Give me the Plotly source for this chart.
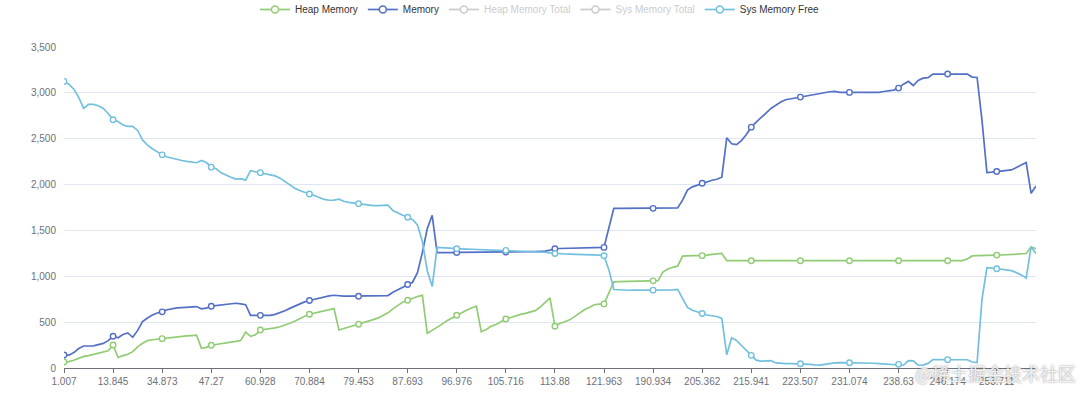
import plotly.graph_objects as go

# ---------------- data ----------------
x_tick_labels = ["1.007", "13.845", "34.873", "47.27", "60.928", "70.884", "79.453",
                 "87.693", "96.976", "105.716", "113.88", "121.963", "190.934",
                 "205.362", "215.941", "223.507", "231.074", "238.63", "246.174", "253.711"]

heap_memory = [
    66, 70, 85, 108, 127, 135, 148, 157, 171, 188,
    250, 115, 135, 150, 178, 230, 270, 298, 308, 315,
    320, 325, 331, 338, 345, 350, 353, 357, 215, 225,
    248, 255, 266, 275, 284, 290, 300, 392, 345, 362,
    414, 420, 428, 438, 450, 466, 488, 510, 539, 564,
    586, 597, 607, 619, 635, 648, 415, 430, 450, 466,
    477, 492, 510, 528, 546, 572, 601, 645, 685, 718,
    739, 760, 780, 792, 378, 410, 440, 478, 515, 545,
    575, 605, 630, 655, 675, 395, 420, 455, 475, 505,
    535, 550, 570, 585, 595, 610, 625, 665, 710, 765,
    455, 485, 505, 525, 560, 600, 635, 660, 690, 697,
    699, 820, 940, 942, 944, 945, 946, 947, 948, 949,
    950, 952, 1045, 1080, 1098, 1110, 1220, 1225, 1225, 1225,
    1225, 1230, 1238, 1248, 1250, 1170, 1170, 1170, 1170, 1170,
    1170, 1170, 1170, 1170, 1170, 1170, 1170, 1170, 1170, 1170,
    1170, 1170, 1170, 1170, 1170, 1170, 1170, 1170, 1170, 1170,
    1170, 1170, 1170, 1170, 1170, 1170, 1170, 1170, 1170, 1170,
    1170, 1170, 1170, 1170, 1170, 1170, 1170, 1170, 1170, 1170,
    1170, 1170, 1170, 1170, 1190, 1222, 1225, 1228, 1230, 1230,
    1231, 1232, 1234, 1236, 1238, 1242, 1248, 1320, 1300,
]

memory = [
    142, 140, 168, 212, 240, 240, 242, 255, 268, 298,
    346, 330, 365, 382, 335, 410, 505, 545, 578, 600,
    612, 635, 647, 655, 658, 662, 666, 670, 645, 652,
    674, 680, 688, 695, 700, 706, 700, 690, 573, 572,
    574, 572, 574, 585, 603, 625, 650, 675, 703, 721,
    736, 750, 763, 775, 786, 793, 786, 784, 783, 783,
    783, 783, 783, 783, 784, 785, 790, 826, 855, 883,
    910, 935, 1040, 1260, 1520, 1665, 1258, 1256, 1257, 1258,
    1260, 1260, 1261, 1261, 1262, 1262, 1263, 1263, 1263, 1264,
    1264, 1265, 1266, 1267, 1268, 1268, 1269, 1270, 1275, 1285,
    1300, 1303, 1305, 1307, 1308, 1309, 1310, 1311, 1312, 1313,
    1315, 1530, 1741, 1741, 1741, 1741, 1741, 1741, 1741, 1741,
    1741, 1741, 1741, 1741, 1741, 1745, 1830, 1940, 1975, 1995,
    2014, 2030, 2047, 2058, 2080, 2510, 2445, 2435, 2480, 2545,
    2626, 2680, 2735, 2780, 2830, 2870, 2900, 2925, 2935, 2945,
    2954, 2970, 2980, 2990, 2997, 3005, 3012, 3016, 3005, 3005,
    3005, 3005, 3005, 3005, 3005, 3005, 3005, 3015, 3025, 3030,
    3052, 3095, 3125, 3080, 3135, 3160, 3165, 3205, 3205, 3205,
    3205, 3208, 3210, 3212, 3205, 3172, 3168, 2700, 2131, 2135,
    2142, 2145, 2150, 2160, 2185, 2210, 2240, 1905, 1985,
]

sys_memory_free = [
    3125, 3095, 3040, 2950, 2830, 2875, 2875, 2860, 2830, 2775,
    2706, 2688, 2650, 2635, 2635, 2590, 2485, 2430, 2390, 2352,
    2324, 2300, 2285, 2270, 2262, 2252, 2246, 2238, 2262, 2240,
    2190, 2172, 2128, 2102, 2080, 2060, 2065, 2048, 2152, 2140,
    2130, 2122, 2110, 2095, 2070, 2033, 1993, 1960, 1935, 1913,
    1897, 1880, 1862, 1838, 1829, 1830, 1840, 1818, 1806, 1799,
    1792, 1784, 1772, 1770, 1770, 1772, 1776, 1716, 1688, 1665,
    1643, 1620, 1560, 1380, 1060, 888, 1315, 1311, 1306, 1302,
    1300, 1299, 1297, 1295, 1293, 1291, 1289, 1287, 1285, 1283,
    1282, 1280, 1279, 1278, 1277, 1276, 1274, 1270, 1262, 1255,
    1249, 1245, 1243, 1242, 1241, 1240, 1238, 1236, 1234, 1231,
    1224, 1070, 856, 851, 848, 848, 849, 849, 849, 849,
    849, 850, 848, 848, 852, 858, 750, 660, 630, 612,
    594, 578, 570, 562, 540, 145, 330, 300, 245, 190,
    138, 85, 75, 78, 80, 55, 47, 47, 47, 47,
    47, 42, 40, 35, 32, 40, 50, 55, 58, 58,
    58, 58, 58, 57, 56, 52, 48, 44, 40, 40,
    40, 30, 80, 78, 30, 32, 50, 91, 91, 91,
    91, 91, 91, 91, 90, 65, 60, 750, 1095, 1090,
    1082, 1080, 1072, 1062, 1040, 1015, 980, 1322, 1249,
]

# deselected in the legend (values not shown in the chart)
heap_memory_total = []
sys_memory_total = []

# ---------------- figure ----------------
n = len(memory)
x_idx = list(range(n))
label_step = 10
tick_idx = [i * label_step for i in range(len(x_tick_labels))]

series = [
    ("Heap Memory", heap_memory, "#91cc75", True),
    ("Memory", memory, "#5470c6", True),
    ("Heap Memory Total", heap_memory_total, "#999999", False),
    ("Sys Memory Total", sys_memory_total, "#999999", False),
    ("Sys Memory Free", sys_memory_free, "#73c0de", True),
]

fig = go.Figure()

# legend entries
for name, vals, color, active in series:
    label = name if active else '<span style="color:#999999">%s</span>' % name
    fig.add_trace(go.Scatter(
        x=[None], y=[None], name=label, legendgroup=name,
        mode="lines+markers",
        line=dict(color=color, width=1.7),
        marker=dict(symbol="circle", size=7, color="white",
                    line=dict(color=color, width=1.5)),
        visible=True if active else "legendonly",
        showlegend=True, hoverinfo="skip",
    ))

# data lines + sampled markers
for name, vals, color, active in series:
    if not active:
        continue
    fig.add_trace(go.Scatter(
        x=x_idx[:len(vals)], y=vals, mode="lines", legendgroup=name,
        name=name, showlegend=False,
        line=dict(color=color, width=1.7),
    ))
    mx = [i for i in tick_idx if i < len(vals)]
    fig.add_trace(go.Scatter(
        x=mx, y=[vals[i] for i in mx], mode="markers", legendgroup=name,
        name=name, showlegend=False,
        marker=dict(symbol="circle", size=5.5, color="white",
                    line=dict(color=color, width=1.4)),
    ))

axis_font = dict(family="Liberation Sans, Arial, sans-serif", size=10, color="#6E7079")

fig.update_layout(
    width=1080, height=396,
    margin=dict(l=64, r=44, t=47, b=28, autoexpand=False),
    paper_bgcolor="white", plot_bgcolor="white",
    font=dict(family="Liberation Sans, Arial, sans-serif", size=10, color="#333333"),
    showlegend=True,
    legend=dict(orientation="h", xref="container", yref="paper",
                x=0.5, xanchor="center", y=1.162, yanchor="top",
                itemwidth=30, font=dict(size=10, color="#333333"),
                bgcolor="rgba(0,0,0,0)"),
    xaxis=dict(range=[0, n - 1], tickmode="array", tickvals=tick_idx,
               ticktext=x_tick_labels, showgrid=False, zeroline=False,
               showline=True, linecolor="#6E7079", linewidth=1,
               ticks="outside", ticklen=4, tickcolor="#6E7079",
               tickfont=axis_font, automargin=False),
    yaxis=dict(range=[0, 3500], dtick=500, tickformat=",", showgrid=True,
               gridcolor="#E0E6F1", gridwidth=1, zeroline=False, showline=False,
               ticklabelstandoff=7, tickfont=axis_font, automargin=False),
    annotations=[dict(text="@稀土掘金技术社区", xref="paper", yref="paper",
                      x=0.958, y=-0.016, xanchor="center", yanchor="middle",
                      showarrow=False,
                      font=dict(family="Noto Sans CJK SC", size=18,
                                color="rgba(255,255,255,0.85)",
                                shadow="0px 0px 2px rgba(90,90,90,0.9)"))],
)

fig.write_html("out.html", config={"displayModeBar": False},
               post_script="document.body.style.margin='0';")
